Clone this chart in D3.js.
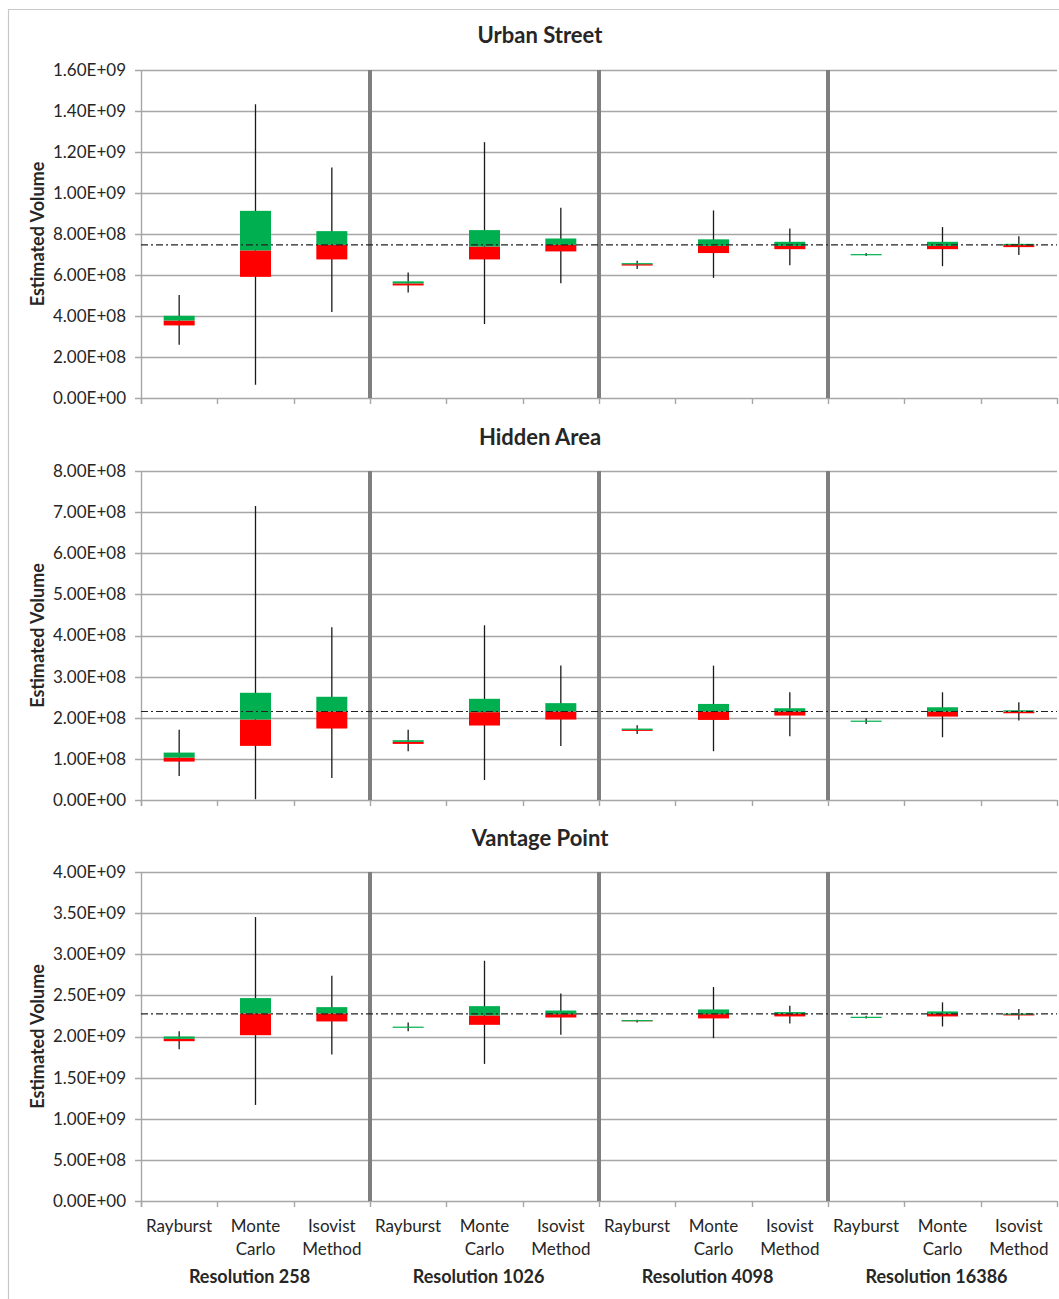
<!DOCTYPE html>
<html>
<head>
<meta charset="utf-8">
<script src="https://cdn.jsdelivr.net/npm/d3@7"></script>
<style>
  body { margin: 0; background: #fff; }
  text { font-family: Lato, "Open Sans", sans-serif; fill: #262626; }
</style>
</head>
<body>
<script>
// categories
var methods = ["Rayburst", "Monte|Carlo", "Isovist|Method"];
var resolutions = ["Resolution 258", "Resolution 1026", "Resolution 4098", "Resolution 16386"];

// Urban Street (values in volume units)
var urbanMin = [2.60e8, 0.65e8, 4.19e8, 5.15e8, 3.61e8, 5.60e8, 6.29e8, 5.86e8, 6.48e8, 6.93e8, 6.43e8, 6.98e8];
var urbanQ1  = [3.54e8, 5.91e8, 6.76e8, 5.49e8, 6.76e8, 7.15e8, 6.46e8, 7.07e8, 7.26e8, 7.00e8, 7.26e8, 7.36e8];
var urbanMed = [3.78e8, 7.20e8, 7.47e8, 5.59e8, 7.39e8, 7.47e8, 6.53e8, 7.42e8, 7.42e8, 7.00e8, 7.42e8, 7.46e8];
var urbanQ3  = [4.01e8, 9.13e8, 8.14e8, 5.69e8, 8.19e8, 7.78e8, 6.58e8, 7.74e8, 7.62e8, 7.02e8, 7.62e8, 7.52e8];
var urbanMax = [5.02e8, 14.33e8, 11.24e8, 6.12e8, 12.48e8, 9.28e8, 6.70e8, 9.15e8, 8.27e8, 7.07e8, 8.34e8, 7.89e8];
var urbanRef = 7.47e8;

// Hidden Area
var hiddenMin = [0.585e8, 0.02e8, 0.536e8, 1.186e8, 0.487e8, 1.316e8, 1.607e8, 1.186e8, 1.551e8, 1.850e8, 1.526e8, 1.931e8];
var hiddenQ1  = [0.934e8, 1.316e8, 1.738e8, 1.364e8, 1.811e8, 1.957e8, 1.680e8, 1.947e8, 2.053e8, 1.920e8, 2.028e8, 2.109e8];
var hiddenMed = [1.031e8, 1.957e8, 2.152e8, 1.413e8, 2.136e8, 2.152e8, 1.704e8, 2.150e8, 2.150e8, 1.920e8, 2.150e8, 2.150e8];
var hiddenQ3  = [1.153e8, 2.607e8, 2.510e8, 1.454e8, 2.461e8, 2.355e8, 1.737e8, 2.336e8, 2.231e8, 1.930e8, 2.255e8, 2.182e8];
var hiddenMax = [1.706e8, 7.147e8, 4.199e8, 1.706e8, 4.248e8, 3.273e8, 1.818e8, 3.267e8, 2.619e8, 1.988e8, 2.619e8, 2.377e8];
var hiddenRef = 2.152e8;

// Vantage Point
var vantageMin = [1.846e9, 1.168e9, 1.781e9, 2.065e9, 1.667e9, 2.020e9, 2.170e9, 1.980e9, 2.159e9, 2.220e9, 2.122e9, 2.203e9];
var vantageQ1  = [1.943e9, 2.016e9, 2.183e9, 2.110e9, 2.142e9, 2.231e9, 2.185e9, 2.220e9, 2.244e9, 2.235e9, 2.244e9, 2.256e9];
var vantageMed = [1.972e9, 2.280e9, 2.280e9, 2.110e9, 2.256e9, 2.272e9, 2.195e9, 2.272e9, 2.276e9, 2.235e9, 2.276e9, 2.272e9];
var vantageQ3  = [2.000e9, 2.467e9, 2.357e9, 2.120e9, 2.369e9, 2.316e9, 2.200e9, 2.329e9, 2.297e9, 2.240e9, 2.305e9, 2.280e9];
var vantageMax = [2.065e9, 3.452e9, 2.738e9, 2.170e9, 2.921e9, 2.523e9, 2.205e9, 2.602e9, 2.374e9, 2.252e9, 2.415e9, 2.333e9];
var vantageRef = 2.276e9;

// y axis tick values per panel
var urbanTicks = [0, 2e8, 4e8, 6e8, 8e8, 10e8, 12e8, 14e8, 16e8];
var hiddenTicks = [0, 1e8, 2e8, 3e8, 4e8, 5e8, 6e8, 7e8, 8e8];
var vantageTicks = [0, 5e8, 10e8, 15e8, 20e8, 25e8, 30e8, 35e8, 40e8];

var W = 1059, H = 1299;
var left = 141, right = 1057;

var svg = d3.select("body").append("svg")
    .attr("width", W)
    .attr("height", H);

// outer frame (left + top edges visible)
svg.append("path")
    .attr("d", "M8.5," + H + "V9.5H" + W)
    .attr("fill", "none")
    .attr("stroke", "#c8c8c8")
    .attr("stroke-width", 1.2);

// 12 categories, one per method per resolution
var cats = [];
resolutions.forEach(function (r, ri) {
    methods.forEach(function (m, mi) {
        cats.push(ri * 3 + mi);
    });
});

var x = d3.scaleBand()
    .domain(cats)
    .range([left, right])
    .paddingInner(0)
    .paddingOuter(0);

function sci(v) {
    if (v === 0) { return "0.00E+00"; }
    var e = Math.floor(Math.log10(v) + 1e-9);
    var m = v / Math.pow(10, e);
    return m.toFixed(2) + "E+" + (e < 10 ? "0" + e : e);
}

var panels = [
    {title: "Urban Street", top: 70, bottom: 398, titleY: 43, ticks: urbanTicks,
     min: urbanMin, q1: urbanQ1, med: urbanMed, q3: urbanQ3, max: urbanMax, ref: urbanRef},
    {title: "Hidden Area", top: 471, bottom: 800, titleY: 445, ticks: hiddenTicks,
     min: hiddenMin, q1: hiddenQ1, med: hiddenMed, q3: hiddenQ3, max: hiddenMax, ref: hiddenRef},
    {title: "Vantage Point", top: 872, bottom: 1201, titleY: 846, ticks: vantageTicks,
     min: vantageMin, q1: vantageQ1, med: vantageMed, q3: vantageQ3, max: vantageMax, ref: vantageRef}
];

var boxW = 31;

panels.forEach(function (p, pi) {
    var g = svg.append("g");
    var y = d3.scaleLinear()
        .domain([0, p.ticks[p.ticks.length - 1]])
        .range([p.bottom, p.top]);

    // title
    g.append("text")
        .attr("x", 540)
        .attr("y", p.titleY)
        .attr("text-anchor", "middle")
        .style("font-size", "22px")
        .style("font-weight", "bold")
        .text(p.title);

    // y axis title
    g.append("text")
        .attr("transform", "translate(44," + ((p.top + p.bottom) / 2) + ") rotate(-90)")
        .attr("text-anchor", "middle")
        .style("font-size", "18px")
        .style("font-weight", "bold")
        .text("Estimated Volume");

    // gridlines
    g.selectAll(".grid")
        .data(p.ticks)
        .enter().append("line")
        .attr("x1", left - 6)
        .attr("x2", right)
        .attr("y1", function (d) { return Math.round(y(d)) + 0.5; })
        .attr("y2", function (d) { return Math.round(y(d)) + 0.5; })
        .attr("stroke", "#a6a6a6")
        .attr("stroke-width", 1.4);

    // y axis line
    g.append("line")
        .attr("x1", left + 0.5).attr("x2", left + 0.5)
        .attr("y1", p.top).attr("y2", p.bottom + 6)
        .attr("stroke", "#a6a6a6")
        .attr("stroke-width", 1.4);

    // y tick labels
    g.selectAll(".ylab")
        .data(p.ticks)
        .enter().append("text")
        .attr("x", left - 15)
        .attr("y", function (d) { return y(d); })
        .attr("dy", "0.35em")
        .attr("text-anchor", "end")
        .style("font-size", "17px")
        .text(sci);

    // x tick marks at band edges
    var edges = cats.map(function (c) { return x(c); }).concat([right]);
    g.selectAll(".xt")
        .data(edges)
        .enter().append("line")
        .attr("x1", function (d) { return Math.round(d) + 0.5; })
        .attr("x2", function (d) { return Math.round(d) + 0.5; })
        .attr("y1", p.bottom)
        .attr("y2", p.bottom + 6)
        .attr("stroke", "#a6a6a6")
        .attr("stroke-width", 1.4);

    // resolution separators
    g.selectAll(".sep")
        .data([3, 6, 9])
        .enter().append("line")
        .attr("x1", function (d) { return x(d); })
        .attr("x2", function (d) { return x(d); })
        .attr("y1", p.top)
        .attr("y2", p.bottom)
        .attr("stroke", "#7f7f7f")
        .attr("stroke-width", 4);

    var cx = function (i) { return x(i) + x.bandwidth() / 2; };

    // whiskers
    g.selectAll(".wh")
        .data(cats)
        .enter().append("line")
        .attr("x1", function (i) { return cx(i); })
        .attr("x2", function (i) { return cx(i); })
        .attr("y1", function (i) { return y(p.max[i]); })
        .attr("y2", function (i) { return y(p.min[i]); })
        .attr("stroke", "#1a1a1a")
        .attr("stroke-width", 1.3);

    // lower box: Q1 -> median (red)
    g.selectAll(".lo")
        .data(cats)
        .enter().append("rect")
        .attr("x", function (i) { return cx(i) - boxW / 2; })
        .attr("width", boxW)
        .attr("y", function (i) { return y(p.med[i]); })
        .attr("height", function (i) { return Math.max(y(p.q1[i]) - y(p.med[i]), 0); })
        .attr("fill", "#ff0000");

    // upper box: median -> Q3 (green)
    g.selectAll(".hi")
        .data(cats)
        .enter().append("rect")
        .attr("x", function (i) { return cx(i) - boxW / 2; })
        .attr("width", boxW)
        .attr("y", function (i) { return y(p.q3[i]); })
        .attr("height", function (i) { return Math.max(y(p.med[i]) - y(p.q3[i]), 1.2); })
        .attr("fill", "#00b050");

    // reference line
    g.append("line")
        .attr("x1", left)
        .attr("x2", right)
        .attr("y1", y(p.ref))
        .attr("y2", y(p.ref))
        .attr("stroke", "#222")
        .attr("stroke-width", 1.2)
        .attr("stroke-dasharray", "7,3,2,3");
});

// category labels (bottom panel only)
var last = panels[2];
cats.forEach(function (i) {
    var lines = methods[i % 3].split("|");
    var cx = x(i) + x.bandwidth() / 2;
    lines.forEach(function (t, k) {
        svg.append("text")
            .attr("x", cx)
            .attr("y", last.bottom + 31 + k * 23)
            .attr("text-anchor", "middle")
            .style("font-size", "17px")
            .text(t);
    });
});

resolutions.forEach(function (r, ri) {
    var x0 = x(ri * 3), x1 = (ri < 3) ? x(ri * 3 + 3) : right;
    svg.append("text")
        .attr("x", (x0 + x1) / 2 - 6)
        .attr("y", last.bottom + 82)
        .attr("text-anchor", "middle")
        .style("font-size", "18px")
        .style("font-weight", "bold")
        .text(r);
});
</script>
</body>
</html>
